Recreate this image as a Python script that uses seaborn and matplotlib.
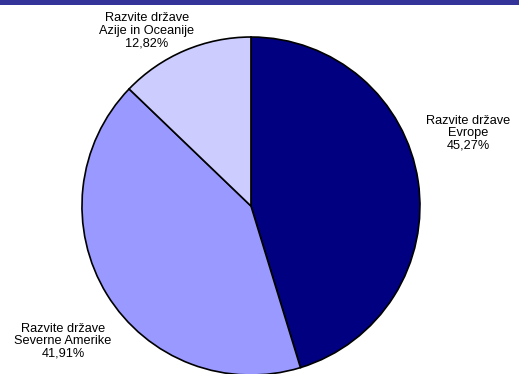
# Pie chart: share of developed regions
import matplotlib.pyplot as plt
import seaborn as sns
from matplotlib.patches import Rectangle

# Data
regions = ['Razvite države\nEvrope', 'Razvite države\nSeverne Amerike', 'Razvite države\nAzije in Oceanije']
shares = [45.27, 41.91, 12.82]
share_text = ['45,27%', '41,91%', '12,82%']
colors = ['#000080', '#9999FF', '#CCCCFF']

# label positions (data units, pie radius = 1)
label_pos = [(1.284, 0.432), (-1.112, -0.799), (-0.615, 1.036)]

sns.set_theme(style='white')
plt.rcParams['font.family'] = ['Liberation Sans', 'DejaVu Sans']

fig = plt.figure(figsize=(5.19, 3.74), dpi=100)
ax = fig.add_axes([0, 0, 1, 1])

ax.pie(shares, colors=sns.color_palette(colors), startangle=90, counterclock=False,
       wedgeprops={'edgecolor': 'black', 'linewidth': 1.2})

for name, txt, (x, y) in zip(regions, share_text, label_pos):
    ax.text(x, y, name + '\n' + txt, ha='center', va='center', fontsize=9.2,
            color='black', linespacing=1.05)

ax.set_xlim(-1.485, 1.586)
ax.set_ylim(-0.994, 1.219)
ax.set_aspect('auto')
ax.axis('off')

# dark band at the top (cut-off title bar)
fig.patches.append(Rectangle((0, 1 - 5 / 374), 1, 5 / 374, transform=fig.transFigure,
                             facecolor='#333399', edgecolor='none'))

fig.savefig('out.png', dpi=100)
